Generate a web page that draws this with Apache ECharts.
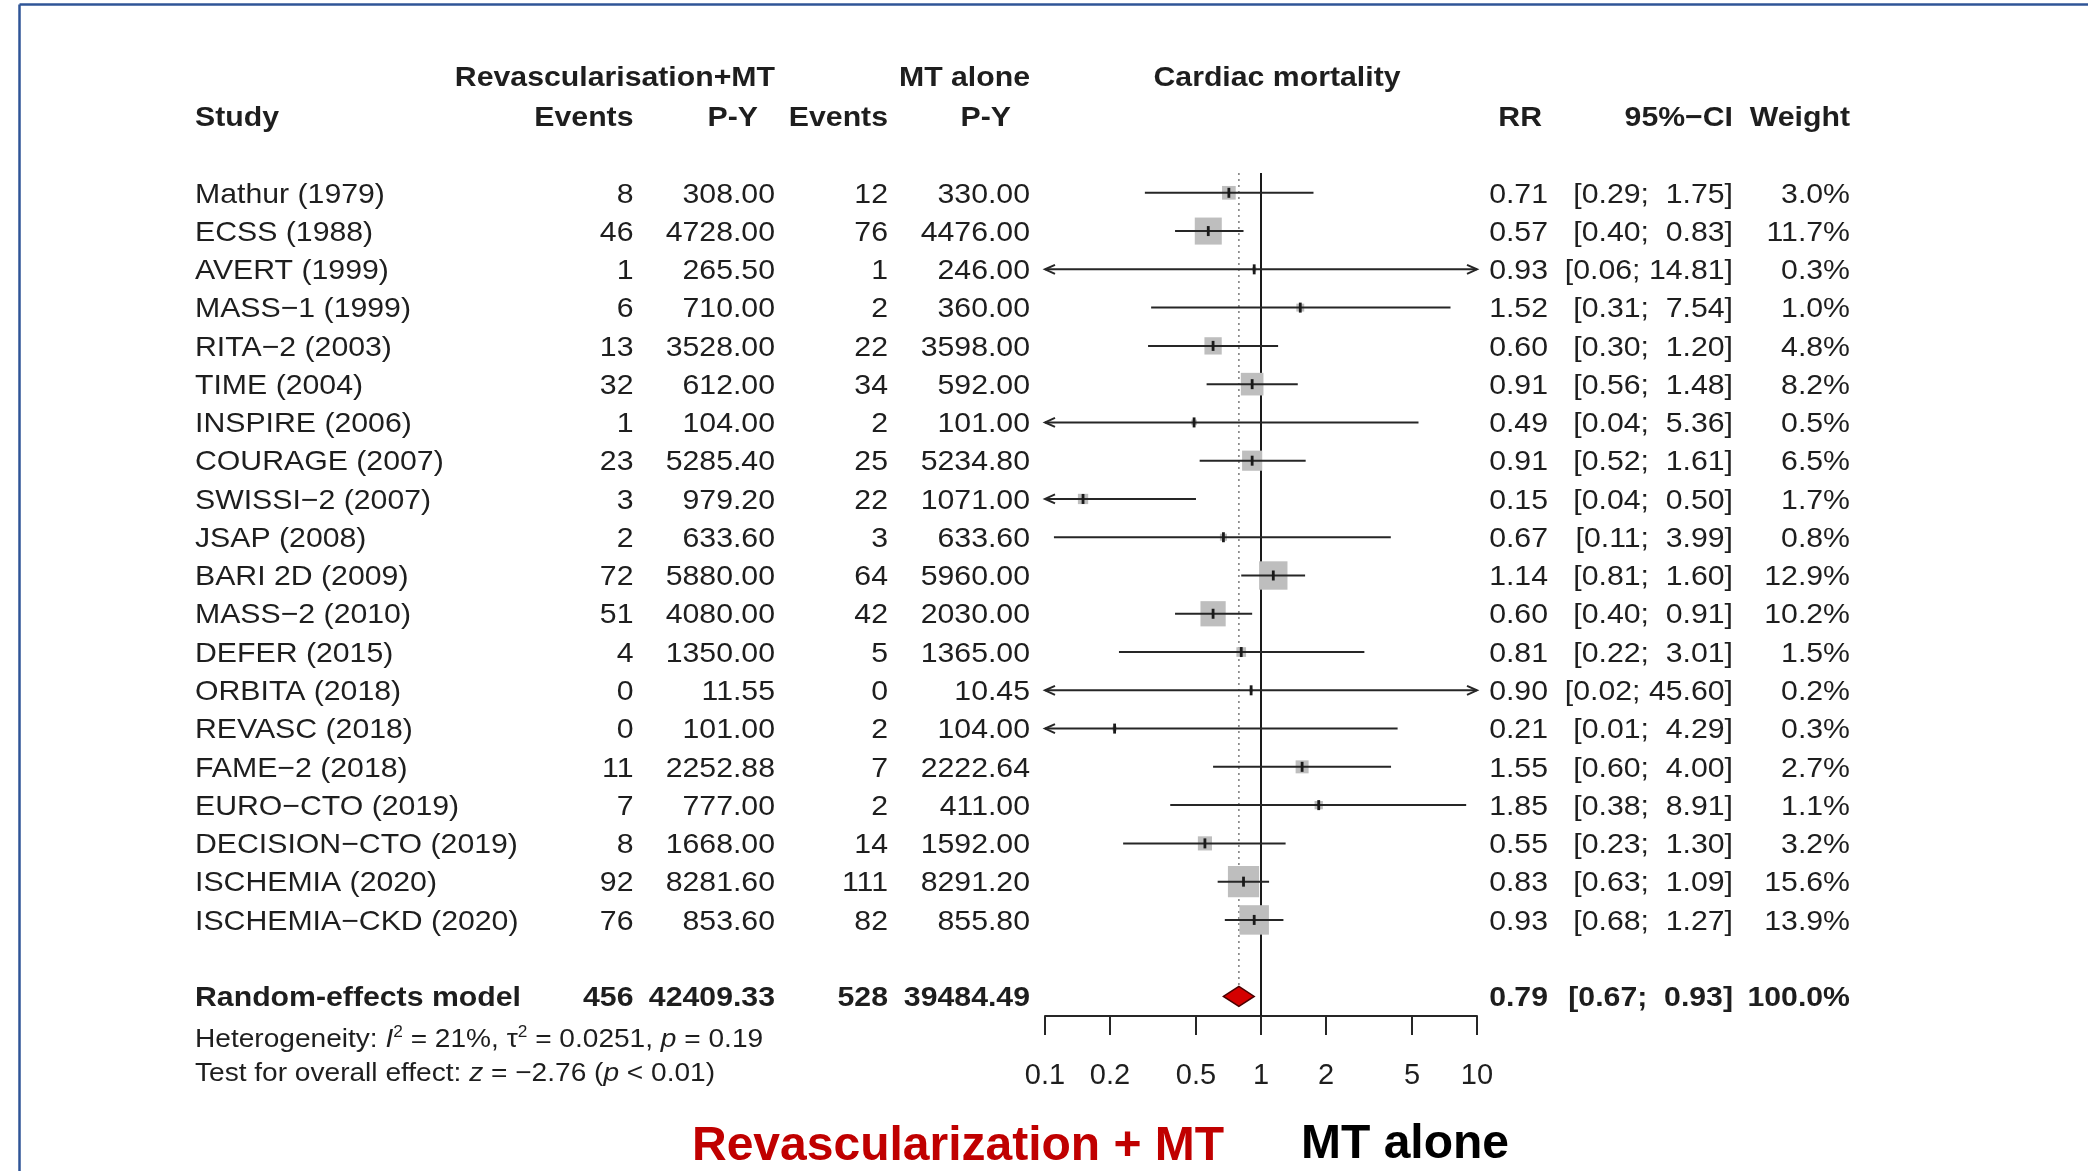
<!DOCTYPE html>
<html>
<head>
<meta charset="utf-8">
<title>Cardiac mortality – forest plot</title>
<script src="https://cdn.jsdelivr.net/npm/echarts@6/dist/echarts.min.js"></script>
<style>
  html, body { margin: 0; padding: 0; background: #ffffff; }
  #chart { width: 2088px; height: 1171px; }
</style>
</head>
<body>
<div id="chart"></div>
<script>
// ---- study data -------------------------------------------------------
const studies = [
  'Mathur (1979)', 'ECSS (1988)', 'AVERT (1999)', 'MASS\u22121 (1999)', 'RITA\u22122 (2003)',
  'TIME (2004)', 'INSPIRE (2006)', 'COURAGE (2007)', 'SWISSI\u22122 (2007)', 'JSAP (2008)',
  'BARI 2D (2009)', 'MASS\u22122 (2010)', 'DEFER (2015)', 'ORBITA (2018)', 'REVASC (2018)',
  'FAME\u22122 (2018)', 'EURO\u2212CTO (2019)', 'DECISION\u2212CTO (2019)', 'ISCHEMIA (2020)', 'ISCHEMIA\u2212CKD (2020)'
];
const eventsRevasc = [8, 46, 1, 6, 13, 32, 1, 23, 3, 2, 72, 51, 4, 0, 0, 11, 7, 8, 92, 76];
const pyRevasc = [308.00, 4728.00, 265.50, 710.00, 3528.00, 612.00, 104.00, 5285.40, 979.20, 633.60,
  5880.00, 4080.00, 1350.00, 11.55, 101.00, 2252.88, 777.00, 1668.00, 8281.60, 853.60];
const eventsMT = [12, 76, 1, 2, 22, 34, 2, 25, 22, 3, 64, 42, 5, 0, 2, 7, 2, 14, 111, 82];
const pyMT = [330.00, 4476.00, 246.00, 360.00, 3598.00, 592.00, 101.00, 5234.80, 1071.00, 633.60,
  5960.00, 2030.00, 1365.00, 10.45, 104.00, 2222.64, 411.00, 1592.00, 8291.20, 855.80];
const rr = [0.71, 0.57, 0.93, 1.52, 0.60, 0.91, 0.49, 0.91, 0.15, 0.67,
  1.14, 0.60, 0.81, 0.90, 0.21, 1.55, 1.85, 0.55, 0.83, 0.93];
const ciLower = [0.29, 0.40, 0.06, 0.31, 0.30, 0.56, 0.04, 0.52, 0.04, 0.11,
  0.81, 0.40, 0.22, 0.02, 0.01, 0.60, 0.38, 0.23, 0.63, 0.68];
const ciUpper = [1.75, 0.83, 14.81, 7.54, 1.20, 1.48, 5.36, 1.61, 0.50, 3.99,
  1.60, 0.91, 3.01, 45.60, 4.29, 4.00, 8.91, 1.30, 1.09, 1.27];
const weight = [3.0, 11.7, 0.3, 1.0, 4.8, 8.2, 0.5, 6.5, 1.7, 0.8,
  12.9, 10.2, 1.5, 0.2, 0.3, 2.7, 1.1, 3.2, 15.6, 13.9];

// ---- random-effects summary -----------------------------------------
const pooledEvents = [456, 528];
const pooledPY = [42409.33, 39484.49];
const pooledEstimate = [0.79, 0.67, 0.93];   // RR, lower, upper
const pooledWeight = [100.0];

// ---- axis ticks -------------------------------------------------------
const tickValues = [0.1, 0.2, 0.5, 1, 2, 5, 10];
const tickLabels = ['0.1', '0.2', '0.5', '1', '2', '5', '10'];

// ---- layout / style ----------------------------------------------------
const X_MIN = 0.1, X_MAX = 10;
const POOLED_ROW = studies.length + 1;
const FONT = '"Liberation Sans", Arial, Helvetica, sans-serif';
const INK = '#1e1e1e';
const FS = 28;          // table font size
const SX = 1.08;        // horizontal stretch of table text
const TEXT_DY = 2;
const BOX_K = 7.9;      // square side = BOX_K * sqrt(weight)
const COL = { study: 195, evR: 633.5, pyR: 775, evM: 888, pyM: 1030, rr: 1548, ci: 1733, w: 1850 };

function fmtCI(lo, hi) {
  let h = hi.toFixed(2);
  while (h.length < 5) h = ' ' + h;
  return '[' + lo.toFixed(2) + '; ' + h + ']';
}

function txt(x, y, text, align, bold, size, extra) {
  return {
    type: 'text', x: x, y: y, scaleX: SX, silent: true,
    style: Object.assign({
      text: text, x: 0, y: 0, align: align, verticalAlign: 'middle',
      fontFamily: FONT, fontSize: size || FS, fontWeight: bold ? 'bold' : 'normal', fill: INK
    }, extra || {})
  };
}

const chart = echarts.init(document.getElementById('chart'), null, { renderer: 'canvas' });

// forest marks of each study: square, CI line, arrows, estimate tick
function renderStudy(params, api) {
  const est = api.value(0), row = api.value(1), lo = api.value(2), hi = api.value(3), w = api.value(4);
  const c = api.coord([est, row]);
  const y = c[1];
  const xl = api.coord([Math.max(lo, X_MIN), row])[0];
  const xh = api.coord([Math.min(hi, X_MAX), row])[0];
  const side = BOX_K * Math.sqrt(w);
  const line = { stroke: '#262626', lineWidth: 2 };
  const children = [
    { type: 'rect', shape: { x: c[0] - side / 2, y: y - side / 2, width: side, height: side },
      style: { fill: '#bebebe' } },
    { type: 'line', shape: { x1: xl, y1: y, x2: xh, y2: y }, style: line },
    { type: 'line', shape: { x1: c[0], y1: y - 5, x2: c[0], y2: y + 5 }, style: { stroke: '#1a1a1a', lineWidth: 2.8 } }
  ];
  if (lo < X_MIN) {
    children.push({ type: 'polyline', shape: { points: [[xl + 10, y - 4.5], [xl, y], [xl + 10, y + 4.5]] },
      style: Object.assign({ fill: null }, line) });
  }
  if (hi > X_MAX) {
    children.push({ type: 'polyline', shape: { points: [[xh - 10, y - 4.5], [xh, y], [xh - 10, y + 4.5]] },
      style: Object.assign({ fill: null }, line) });
  }
  return { type: 'group', children: children };
}

// reference lines (no effect, pooled estimate) and the pooled diamond
function renderSummary(params, api) {
  const topRow = -0.52, axisRow = POOLED_ROW + 0.51;
  const one = api.coord([1, topRow]);
  const oneBottom = api.coord([1, axisRow]);
  const mid = api.coord([pooledEstimate[0], POOLED_ROW]);
  const left = api.coord([pooledEstimate[1], POOLED_ROW]);
  const right = api.coord([pooledEstimate[2], POOLED_ROW]);
  const dotTop = api.coord([pooledEstimate[0], topRow]);
  const half = 10;
  return { type: 'group', children: [
    { type: 'line', shape: { x1: dotTop[0], y1: dotTop[1], x2: mid[0], y2: mid[1] - half },
      style: { stroke: '#7a7a7a', lineWidth: 1.5, lineDash: [2, 4] } },
    { type: 'line', shape: { x1: one[0], y1: one[1], x2: oneBottom[0], y2: oneBottom[1] },
      style: { stroke: '#1a1a1a', lineWidth: 2 } },
    { type: 'polygon', z2: 10,
      shape: { points: [[left[0], mid[1]], [mid[0], mid[1] - half], [right[0], mid[1]], [mid[0], mid[1] + half]] },
      style: { fill: '#d40000', stroke: '#4a0000', lineWidth: 1.5 } }
  ] };
}

// table columns of each study row
function renderRow(params, api) {
  const i = params.dataIndex;
  const y = api.coord([1, api.value(1)])[1] + TEXT_DY;
  return { type: 'group', children: [
    txt(COL.study, y, studies[i], 'left'),
    txt(COL.evR, y, String(eventsRevasc[i]), 'right'),
    txt(COL.pyR, y, pyRevasc[i].toFixed(2), 'right'),
    txt(COL.evM, y, String(eventsMT[i]), 'right'),
    txt(COL.pyM, y, pyMT[i].toFixed(2), 'right'),
    txt(COL.rr, y, rr[i].toFixed(2), 'right'),
    txt(COL.ci, y, fmtCI(ciLower[i], ciUpper[i]), 'right'),
    txt(COL.w, y, weight[i].toFixed(1) + '%', 'right')
  ] };
}

// column headers, pooled row and heterogeneity statistics
function renderTextBlock(params, api) {
  const yAt = function (r) { return api.coord([1, r])[1] + TEXT_DY; };
  const h1 = yAt(-3.04), h2 = yAt(-2), yp = yAt(POOLED_ROW);
  const yh = yAt(POOLED_ROW + 1.08), yt = yAt(POOLED_ROW + 1.96);
  const tok = function (extra) {
    return Object.assign({ fontFamily: FONT, fontSize: 26, lineHeight: 30, fill: INK }, extra || {});
  };
  const rich = {
    n: tok(),
    i: tok({ fontStyle: 'italic' }),
    s: tok({ fontSize: 16, lineHeight: 30, verticalAlign: 'top' })
  };
  return { type: 'group', children: [
    txt(COL.pyR, h1, 'Revascularisation+MT', 'right', true),
    txt(COL.pyM, h1, 'MT alone', 'right', true),
    txt(1277, h1, 'Cardiac mortality', 'center', true),
    txt(COL.study, h2, 'Study', 'left', true),
    txt(COL.evR, h2, 'Events', 'right', true),
    txt(758, h2, 'P-Y', 'right', true),
    txt(COL.evM, h2, 'Events', 'right', true),
    txt(1011, h2, 'P-Y', 'right', true),
    txt(1542, h2, 'RR', 'right', true),
    txt(COL.ci, h2, '95%\u2212CI', 'right', true),
    txt(COL.w, h2, 'Weight', 'right', true),

    txt(COL.study, yp, 'Random-effects model', 'left', true),
    txt(COL.evR, yp, String(pooledEvents[0]), 'right', true),
    txt(COL.pyR, yp, pooledPY[0].toFixed(2), 'right', true),
    txt(COL.evM, yp, String(pooledEvents[1]), 'right', true),
    txt(COL.pyM, yp, pooledPY[1].toFixed(2), 'right', true),
    txt(COL.rr, yp, pooledEstimate[0].toFixed(2), 'right', true),
    txt(COL.ci, yp, fmtCI(pooledEstimate[1], pooledEstimate[2]), 'right', true),
    txt(COL.w, yp, pooledWeight[0].toFixed(1) + '%', 'right', true),

    txt(COL.study, yh, '{n|Heterogeneity: }{i|I}{s|2}{n| = 21%, \u03c4}{s|2}{n| = 0.0251, }{i|p}{n| = 0.19}', 'left', false, 26, { rich: rich }),
    txt(COL.study, yt, '{n|Test for overall effect: }{i|z}{n| = \u22122.76 (}{i|p}{n| < 0.01)}', 'left', false, 26, { rich: rich })
  ] };
}

const rowData = studies.map(function (_, i) { return [rr[i], i, ciLower[i], ciUpper[i], weight[i]]; });

chart.setOption({
  backgroundColor: '#ffffff',
  animation: false,
  grid: [
    { left: 1045, width: 432, top: 39.72, height: 1109.83 },
    { left: 1045, width: 432, top: 1000, height: 16 }
  ],
  xAxis: [
    { type: 'log', logBase: 10, min: X_MIN, max: X_MAX, gridIndex: 0, show: false },
    {
      type: 'log', logBase: 10, min: X_MIN, max: X_MAX, gridIndex: 1, position: 'bottom',
      axisLine: { show: true, lineStyle: { color: '#262626', width: 2 } },
      axisTick: { show: true, customValues: tickValues, length: 19, lineStyle: { color: '#262626', width: 2 } },
      axisLabel: {
        show: true, customValues: tickValues, margin: 45, fontSize: 29, fontFamily: FONT, color: INK,
        formatter: function (v) {
          let best = 0;
          tickValues.forEach(function (t, k) {
            if (Math.abs(Math.log(v / t)) < Math.abs(Math.log(v / tickValues[best]))) best = k;
          });
          return tickLabels[best];
        }
      },
      splitLine: { show: false }
    }
  ],
  yAxis: [
    { type: 'value', min: -4, max: 25, inverse: true, gridIndex: 0, show: false },
    { type: 'value', gridIndex: 1, show: false }
  ],
  graphic: [
    { type: 'line', shape: { x1: 19.5, y1: 4.5, x2: 2088, y2: 4.5 }, style: { stroke: '#2f5597', lineWidth: 2.5 }, silent: true },
    { type: 'line', shape: { x1: 19.5, y1: 4.5, x2: 19.5, y2: 1171 }, style: { stroke: '#2f5597', lineWidth: 2.5 }, silent: true },
    { type: 'text', left: 692, top: 1123, silent: true,
      style: { text: 'Revascularization + MT', fontFamily: FONT, fontSize: 48, fontWeight: 'bold', fill: '#c00000' } },
    { type: 'text', left: 1301, top: 1121, silent: true,
      style: { text: 'MT alone', fontFamily: FONT, fontSize: 48, fontWeight: 'bold', fill: '#000000' } }
  ],
  series: [
    { type: 'custom', name: 'reference', coordinateSystem: 'cartesian2d', xAxisIndex: 0, yAxisIndex: 0,
      clip: false, silent: true, z: 1, data: [[pooledEstimate[0], POOLED_ROW]], renderItem: renderSummary },
    { type: 'custom', name: 'studies', coordinateSystem: 'cartesian2d', xAxisIndex: 0, yAxisIndex: 0,
      clip: false, silent: true, z: 2, data: rowData, renderItem: renderStudy },
    { type: 'custom', name: 'table', coordinateSystem: 'cartesian2d', xAxisIndex: 0, yAxisIndex: 0,
      clip: false, silent: true, z: 3, data: rowData, renderItem: renderRow },
    { type: 'custom', name: 'labels', coordinateSystem: 'cartesian2d', xAxisIndex: 0, yAxisIndex: 0,
      clip: false, silent: true, z: 3, data: [[1, 0]], renderItem: renderTextBlock }
  ]
});
</script>
</body>
</html>
